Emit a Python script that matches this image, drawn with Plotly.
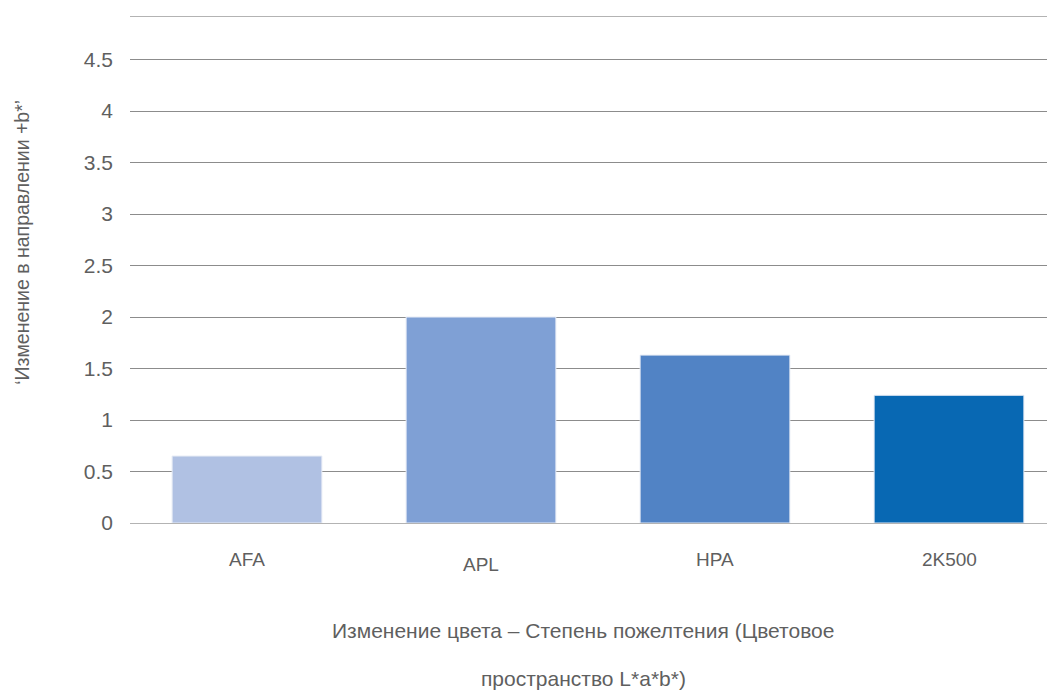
import plotly.graph_objects as go

categories = ["AFA", "APL", "HPA", "2K500"]
values = [0.65, 2.0, 1.63, 1.24]
colors = ["#B0C1E3", "#7FA0D5", "#5183C5", "#0868B3"]
label_shift = [0, -5, 0, 0]
y_ticks = [0, 0.5, 1, 1.5, 2, 2.5, 3, 3.5, 4, 4.5]
y_title = "‘Изменение в направлении +b*’"
x_title_lines = ["Изменение цвета – Степень пожелтения (Цветовое", "пространство L*a*b*)"]

FONT = "Liberation Sans, Arial, Helvetica, sans-serif"
TXT = "#5F5F5F"
FS = 19

fig = go.Figure()
fig.add_trace(go.Bar(
    x=categories, y=values,
    marker=dict(color=colors, line=dict(color="#E6EBF5", width=1)),
    width=0.64, showlegend=False,
))

annotations = []
for c, s in zip(categories, label_shift):
    annotations.append(dict(x=c, y=0, xref="x", yref="y", text=c, showarrow=False,
                            yanchor="middle", yshift=-36 + s,
                            font=dict(family=FONT, size=FS, color=TXT)))
for i, t in enumerate(x_title_lines):
    annotations.append(dict(x=0.49, xref="paper", y=0, yref="y", text=t, showarrow=False,
                            yanchor="middle", yshift=-107 - 48 * i,
                            font=dict(family=FONT, size=21, color=TXT)))
annotations.append(dict(x=0, xref="paper", xshift=-108, y=2.72, yref="y", text=y_title,
                        showarrow=False, textangle=-90, xanchor="center", yanchor="middle",
                        font=dict(family=FONT, size=19.5, color=TXT)))

fig.update_layout(
    width=1047, height=684,
    margin=dict(l=122, r=0, t=9, b=169, pad=0),
    plot_bgcolor="white", paper_bgcolor="white",
    font=dict(family=FONT, size=FS, color=TXT),
    annotations=annotations,
    xaxis=dict(type="category", range=[-0.5, 3.453], showticklabels=False,
               showgrid=False, zeroline=False, showline=True, mirror=True,
               linecolor="#B3B3B3", linewidth=1),
    yaxis=dict(range=[0, 4.913], tickvals=y_ticks, ticktext=[f"{v:g}" for v in y_ticks],
               showgrid=True, gridcolor="#8C8C8C", gridwidth=1, zeroline=False,
               ticklabelstandoff=16, showline=False,
               tickfont=dict(family=FONT, size=21, color=TXT)),
)

fig.write_html("out.html")
